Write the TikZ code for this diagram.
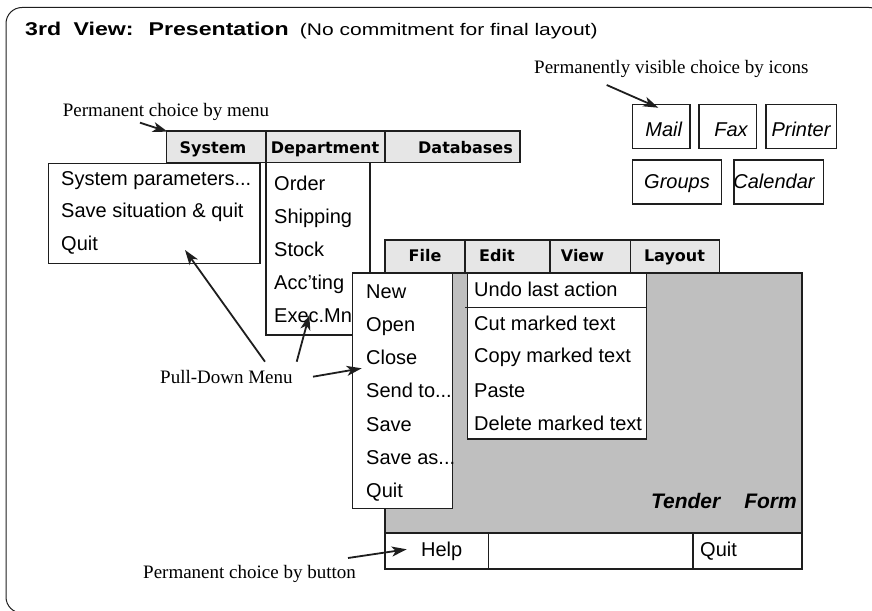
\documentclass[tikz,border=0pt]{standalone}
\usepackage{fontspec}
\usepackage{graphicx}
\setmainfont{Liberation Sans}
\newfontfamily\serifnote{Liberation Serif}
\newfontfamily\barfont{DejaVu Sans}
\usetikzlibrary{arrows.meta}
\definecolor{bar}{RGB}{230,230,230}
\definecolor{form}{RGB}{191,191,191}
\definecolor{ink}{RGB}{30,30,30}
\newcommand{\drawbox}{\draw[line width=1.5pt,draw=ink,fill=white]}
\newcommand{\drawbar}{\draw[line width=1.5pt,draw=ink,fill=bar]}
\newcommand{\dotdot}{.{}.{}.}

\begin{document}
\begin{tikzpicture}[x=1pt,y=-1pt,
  item/.style={inner sep=0,anchor=base west,font=\fontsize{20}{24}\selectfont},
  barlabel/.style={inner sep=0,anchor=base,font=\barfont\bfseries\fontsize{16}{19}\selectfont},
  note/.style={inner sep=0,anchor=base west,font=\serifnote\fontsize{19}{22}\selectfont},
  iconlabel/.style={inner sep=0,anchor=base,font=\itshape\fontsize{20}{24}\selectfont},
  pointer/.style={line width=1.8pt,draw=ink,-{Stealth[length=15pt,width=10pt,inset=4pt]}}]
\useasboundingbox (0,0) rectangle (872,610);
\draw[line width=1pt,draw=ink,rounded corners=16pt] (6,7.5) rectangle (885,613);
\node[inner sep=0,anchor=base west] (title) at (25,36) {\scalebox{1.25}[1]{\fontsize{18.5}{21}\selectfont\bfseries 3rd\hspace{10pt}View:\hspace{12pt}Presentation\hspace{9pt}\mdseries\fontsize{16.8}{19}\selectfont(No commitment for final layout)}};

\foreach \nm/\xa/\xb/\tx/\lbl in {system/166.7/266/213/System,dept/266/385/325/Department,dbase/385/520/465.5/Databases}{
  \drawbar (\xa,131) rectangle (\xb,162.5);
  \node[barlabel] (\nm) at (\tx,153) {\lbl};
}
\drawbox (48.3,163.3) rectangle (260,263.3);
\foreach \txt [count=\i] in {System parameters\dotdot,Save situation \& quit,Quit}
  \node[item] (sysitem\i) at (61,{185+32.5*(\i-1)}) {\txt};
\drawbox (266,162.5) rectangle (370,335);
\foreach \txt [count=\i] in {Order,Shipping,Stock,Acc{\char"0027}ting,Exec.Mn}
  \node[item] (deptitem\i) at (274,{190+33*(\i-1)}) {\txt};

\draw[line width=1.8pt,draw=ink,fill=form] (385,273) rectangle (801.7,533.3);
\draw[line width=1.8pt,draw=ink,fill=white] (385,533.3) rectangle (801.7,569);
\draw[line width=1.5pt,draw=ink] (488.3,533.3) -- (488.3,569) (693,533.3) -- (693,569);
\node[item,anchor=base] (help) at (441.7,556) {Help};
\node[item] (quit) at (700,556) {Quit};
\node[inner sep=0,anchor=base east,font=\bfseries\itshape\fontsize{21}{25}\selectfont] (tender) at (797,508) {Tender\hspace{24pt}Form};

\foreach \nm/\xa/\xb/\tx/\lbl in {file/385/465/425/File,edit/465/550/497/Edit,view/550/630.7/582.5/View,layout/630.7/719.3/674.5/Layout}{
  \drawbar (\xa,240) rectangle (\xb,273);
  \node[barlabel] (\nm) at (\tx,261) {\lbl};
}
\drawbox (352.7,273) rectangle (452.7,508.3);
\foreach \txt [count=\i] in {New,Open,Close,Send to\dotdot,Save,Save as\dotdot,Quit}
  \node[item] (fileitem\i) at (366,{298+33.3*(\i-1)}) {\txt};
\drawbox (467.7,273) rectangle (646.7,439);
\draw[line width=1.5pt,draw=ink] (465,307.3) -- (646.7,307.3);
\foreach \txt/\by [count=\i] in {Undo last action/296,Cut marked text/330,Copy marked text/362,Paste/397,Delete marked text/430}
  \node[item] (edititem\i) at (474,\by) {\txt};

\foreach \nm/\xa/\ya/\xb/\yb/\tx/\by/\lbl in {mail/632.7/104.3/690/148.3/663.7/136/Mail,fax/699/104.3/756.7/148.3/731/136/Fax,printer/766/104.3/836.7/148.3/801/136/Printer,groups/632.7/160/721.7/204/677/188.3/Groups,calendar/734/160/823.3/204/774/188.3/Calendar}{
  \drawbox (\xa,\ya) rectangle (\xb,\yb);
  \node[iconlabel] (\nm) at (\tx,\by) {\lbl};
}

\node[note] (iconnote) at (534,73.3) {Permanently visible choice by icons};
\node[note] (menunote) at (62.7,116.7) {Permanent choice by menu};
\node[note] (pullnote) at (160,383) {Pull-Down Menu};
\node[note] (buttonnote) at (143,578) {Permanent choice by button};

\coordinate (iconfrom) at (606.7,85);
\coordinate (iconto) at (658.3,107.7);
\coordinate (menufrom) at (140,122.7);
\coordinate (menuto) at (167.7,131.7);
\coordinate (pullfromA) at (265,361.7);
\coordinate (pulltoA) at (185,250);
\coordinate (pullfromB) at (296.7,361.7);
\coordinate (pulltoB) at (309.3,315);
\coordinate (pullfromC) at (313,376.7);
\coordinate (pulltoC) at (361.7,368.3);
\coordinate (buttonfrom) at (348,558);
\coordinate (buttonto) at (406.7,549.3);
\draw[pointer] (iconfrom) -- (iconto);
\draw[pointer] (menufrom) -- (menuto);
\draw[pointer] (pullfromA) -- (pulltoA);
\draw[pointer] (pullfromB) -- (pulltoB);
\draw[pointer] (pullfromC) -- (pulltoC);
\draw[pointer] (buttonfrom) -- (buttonto);
\end{tikzpicture}
\end{document}
